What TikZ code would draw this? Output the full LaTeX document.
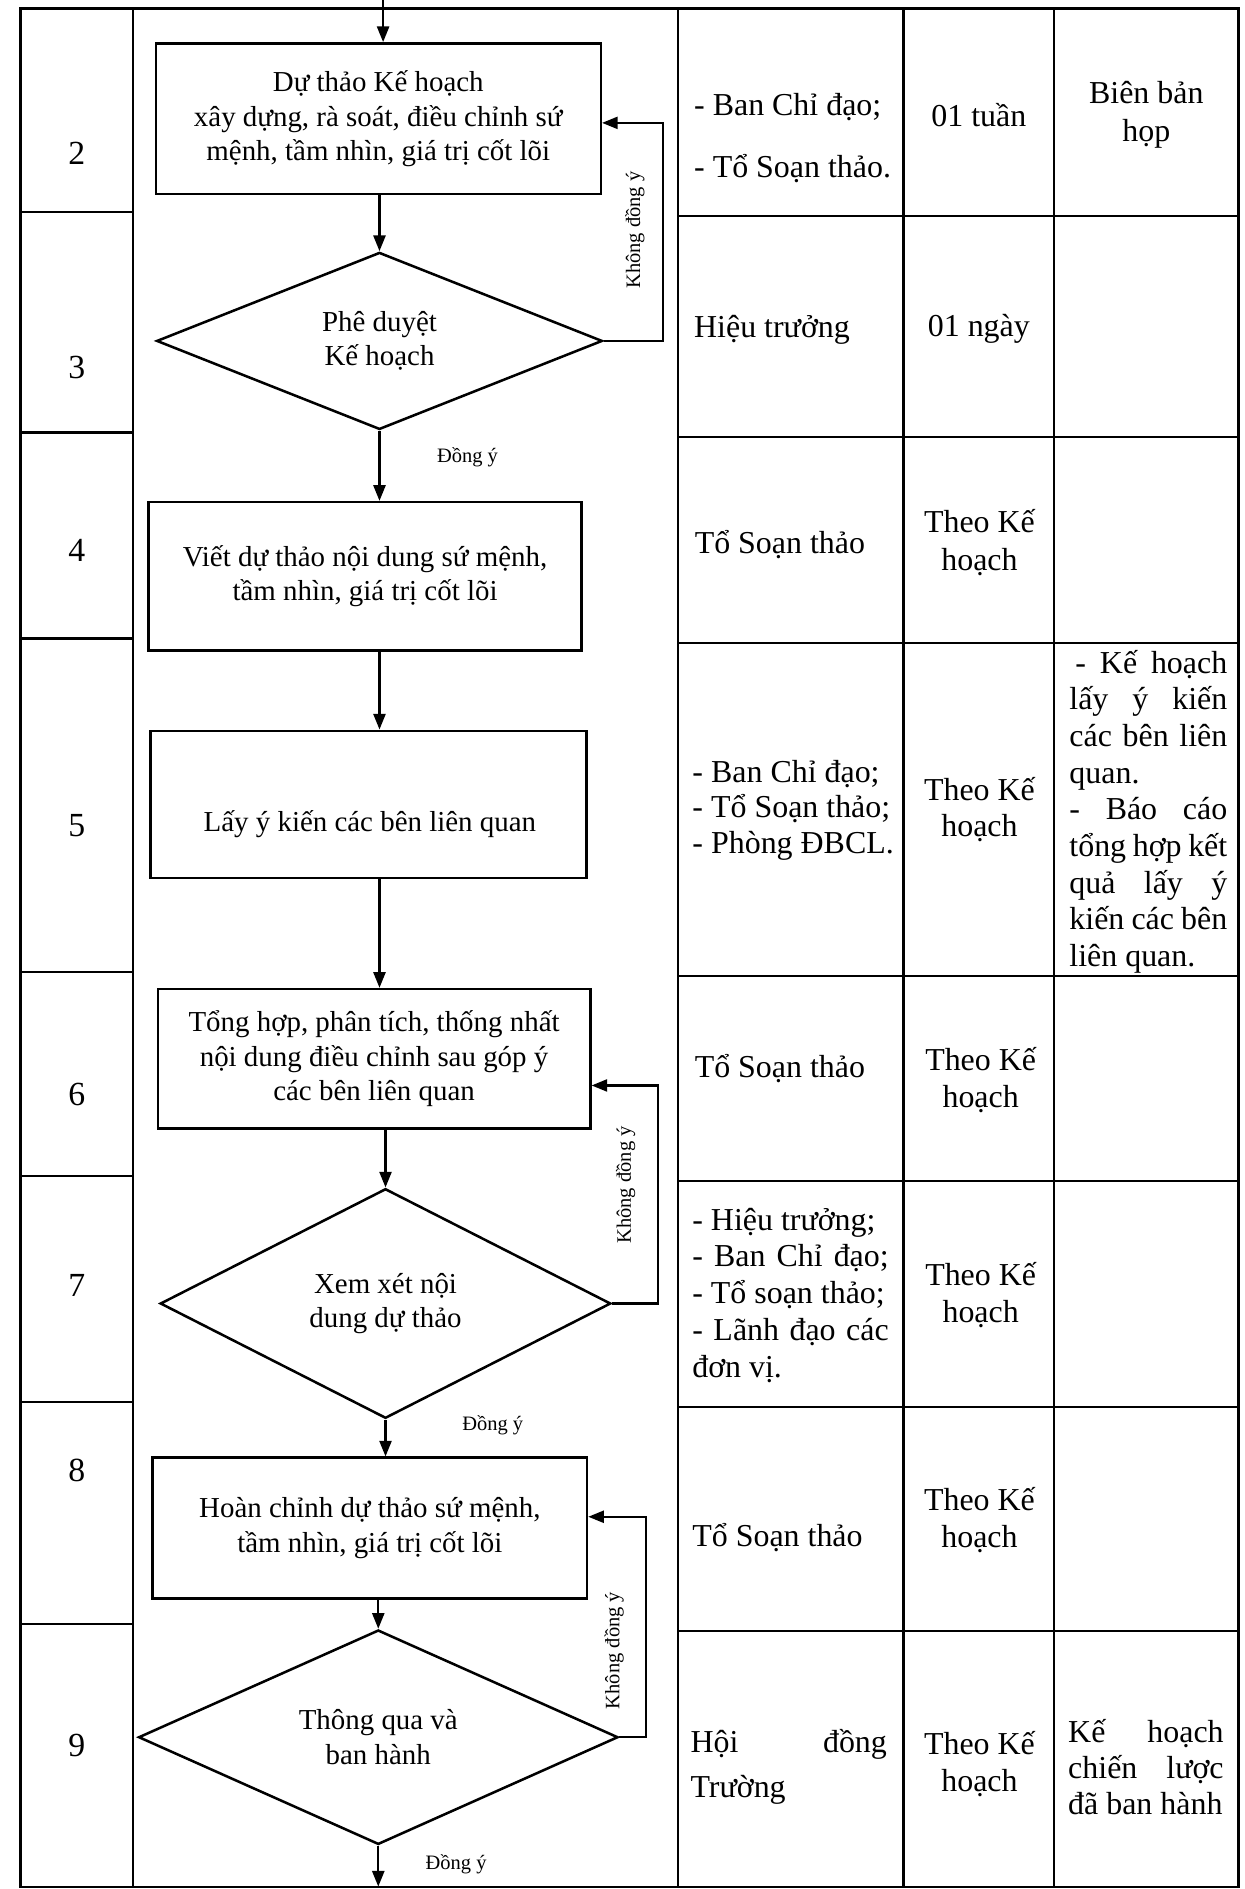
\documentclass[tikz,border=0pt]{standalone}
\usepackage{fontspec}
\setmainfont{Liberation Serif}
\usetikzlibrary{arrows.meta,shapes.geometric}
\begin{document}
\begin{tikzpicture}[x=1pt,y=-1pt,
  grid/.style={line width=1.8pt},
  boxn/.style={draw,line width=2.1pt,rectangle,inner sep=0pt,align=center,font=\fontsize{24pt}{28.5pt}\selectfont},
  dia/.style={draw,line width=2.1pt,diamond,inner sep=0pt,align=center,font=\fontsize{24pt}{28.5pt}\selectfont},
  ftxt/.style={inner sep=0pt,align=center,font=\fontsize{24pt}{28.5pt}\selectfont},
  arr/.style={line width=1.9pt,-{Triangle[length=13pt,width=10pt]}},
  num/.style={inner sep=0pt,font=\fontsize{28pt}{32pt}\selectfont},
  cell/.style={inner sep=0pt,font=\fontsize{26.5pt}{30.5pt}\selectfont},
  lbl/.style={inner sep=0pt,font=\fontsize{17pt}{20pt}\selectfont}
]
\useasboundingbox (0,0) rectangle (1033.4,1568);
\fill[white] (0,0) rectangle (1033.4,1568);

% ---------- table grid ----------
\draw[grid] (17,7) rectangle (1028,1566);
\foreach \x in {110.5,562.5,750,875} \draw[grid] (\x,7) -- (\x,1566);
\foreach \y in {176,359,530,806.5,976,1164,1348} \draw[grid] (17,\y) -- (110.5,\y);
\foreach \y in {179,363,533.5,810,980,1168,1354} \draw[grid] (562.5,\y) -- (1028,\y);

% ---------- step numbers ----------
\node[num] (n2) at (63.75,127.4) {2};
\node[num] (n3) at (63.75,304.8) {3};
\node[num] (n4) at (63.75,456.6) {4};
\node[num] (n5) at (63.75,685.6) {5};
\node[num] (n6) at (63.75,908.8) {6};
\node[num] (n7) at (63.75,1066.8) {7};
\node[num] (n8) at (63.75,1220.6) {8};
\node[num] (n9) at (63.75,1449) {9};

% ---------- flow chart ----------
\node[boxn,minimum width=369.4pt,minimum height=125pt] (b1) at (314,98.5)
  {Dự thảo Kế hoạch\\xây dựng, rà soát, điều chỉnh sứ\\mệnh, tầm nhìn, giá trị cốt lõi};
\node[dia,minimum width=370pt,minimum height=147pt] (d1) at (315,283) {Phê duyệt\\Kế hoạch};
\node[boxn,minimum width=359.3pt,minimum height=123.2pt] (b2) at (303,478.4)
  {Viết dự thảo nội dung sứ mệnh,\\tầm nhìn, giá trị cốt lõi};
\node[boxn,minimum width=361.8pt,minimum height=122pt] (b3) at (306,667.6) {};
\node[ftxt] (t3) at (307,684) {Lấy ý kiến các bên liên quan};
\node[boxn,minimum width=359pt,minimum height=115.6pt] (b4) at (310.5,878.8)
  {Tổng hợp, phân tích, thống nhất\\nội dung điều chỉnh sau góp ý\\các bên liên quan};
\node[dia,minimum width=374pt,minimum height=190.6pt] (d2) at (320,1082) {Xem xét nội\\dung dự thảo};
\node[boxn,minimum width=360.5pt,minimum height=117pt] (b5) at (307,1268.5)
  {Hoàn chỉnh dự thảo sứ mệnh,\\tầm nhìn, giá trị cốt lõi};
\node[dia,minimum width=398pt,minimum height=178pt] (d3) at (314,1442) {Thông qua và\\ban hành};

\coordinate (ctop) at (318,0);
\coordinate (cbot) at (314,1566);

\draw[arr] (ctop) -- (ctop |- b1.north);
\draw[arr] (b1.south -| d1.north) -- (d1.north);
\draw[arr] (d1.south) -- (d1.south |- b2.north);
\draw[arr] (b2.south -| d1.south) -- (b3.north -| d1.south);
\draw[arr] (b3.south -| d1.south) -- (b4.north -| d1.south);
\draw[arr] (b4.south -| d2.north) -- (d2.north);
\draw[arr] (d2.south) -- (d2.south |- b5.north);
\draw[arr] (b5.south -| d3.north) -- (d3.north);
\draw[arr] (d3.south) -- (cbot);

\draw[arr] (d1.east) -- ++(49,0) |- ([yshift=-3.5pt]b1.east);
\draw[arr] (d2.east) -- ++(38.4,0) |- ([yshift=-22.2pt]b4.east);
\draw[arr] (d3.east) -- ++(22.3,0) |- ([yshift=9.5pt]b5.east);

\node[lbl,rotate=90] (k1) at (527,191) {Không đồng ý};
\node[lbl,rotate=90] (k2) at (519.4,983.6) {Không đồng ý};
\node[lbl,rotate=90] (k3) at (509.7,1370) {Không đồng ý};
\node[lbl] (y1) at (388,379.6) {Đồng ý};
\node[lbl] (y2) at (409,1183) {Đồng ý};
\node[lbl] (y3) at (378.6,1547.5) {Đồng ý};

% ---------- table cells ----------
% row 2
\node[cell,anchor=west] (r2a) at (576,88.7) {- Ban Chỉ đạo;};
\node[cell,anchor=west] (r2b) at (576,140) {- Tổ Soạn thảo.};
\node[cell] (r2c) at (812.5,95.6) {01 tuần};
\node[cell,align=center,font=\fontsize{26.5pt}{31.5pt}\selectfont] (r2d) at (951.5,95) {Biên bản\\họp};
% row 3
\node[cell,anchor=west] (r3a) at (576,274) {Hiệu trưởng};
\node[cell] (r3c) at (812.5,273) {01 ngày};
% row 4
\node[cell,anchor=west] (r4a) at (576.5,451.8) {Tổ Soạn thảo};
\node[cell,align=center,font=\fontsize{26.5pt}{31.5pt}\selectfont] (r4c) at (813,450) {Theo Kế\\hoạch};
% row 5
\node[cell,anchor=west,align=left,font=\fontsize{26.5pt}{29.5pt}\selectfont] (r5a) at (574.6,672.3)
  {- Ban Chỉ đạo;\\- Tổ Soạn thảo;\\- Phòng ĐBCL.};
\node[cell,align=center,font=\fontsize{26.5pt}{30.2pt}\selectfont] (r5c) at (813,672) {Theo Kế\\hoạch};
\node[cell,anchor=west,align=left,font=\fontsize{26.5pt}{30.44pt}\selectfont] (r5d) at (887.5,673.75)
  {\makebox[131pt][s]{\hspace*{5pt}- Kế hoạch}\\
   \makebox[131pt][s]{lấy ý kiến}\\
   \makebox[131pt][s]{các bên liên}\\
   quan.\\
   \makebox[131pt][s]{- Báo cáo}\\
   \makebox[131pt][s]{tổng hợp kết}\\
   \makebox[131pt][s]{quả lấy ý}\\
   \makebox[131pt][s]{kiến các bên}\\
   liên quan.};
% row 6
\node[cell,anchor=west] (r6a) at (576.5,886.7) {Tổ Soạn thảo};
\node[cell,align=center,font=\fontsize{26.5pt}{30.7pt}\selectfont] (r6c) at (814,896.4) {Theo Kế\\hoạch};
% row 7
\node[cell,anchor=west,align=left,font=\fontsize{26.5pt}{30.5pt}\selectfont] (r7a) at (574.5,1075)
  {- Hiệu trưởng;\\
   \makebox[163pt][s]{- Ban Chỉ đạo;}\\
   - Tổ soạn thảo;\\
   \makebox[163pt][s]{- Lãnh đạo các}\\
   đơn vị.};
\node[cell,align=center,font=\fontsize{26.5pt}{30.5pt}\selectfont] (r7c) at (814,1075) {Theo Kế\\hoạch};
% row 8
\node[cell,anchor=west] (r8a) at (574.5,1276) {Tổ Soạn thảo};
\node[cell,align=center,font=\fontsize{26.5pt}{30.5pt}\selectfont] (r8c) at (813,1262) {Theo Kế\\hoạch};
% row 9
\node[cell,anchor=west,align=left,font=\fontsize{26.5pt}{37pt}\selectfont] (r9a) at (573,1466.4)
  {\makebox[163pt][s]{Hội đồng}\\Trường};
\node[cell,align=center,font=\fontsize{26.5pt}{30.6pt}\selectfont] (r9c) at (813,1464.3) {Theo Kế\\hoạch};
\node[cell,anchor=west,align=left,font=\fontsize{26.5pt}{29.7pt}\selectfont] (r9d) at (886.5,1466.6)
  {\makebox[129pt][s]{Kế hoạch}\\\makebox[129pt][s]{chiến lược}\\đã ban hành};
\end{tikzpicture}
\end{document}
